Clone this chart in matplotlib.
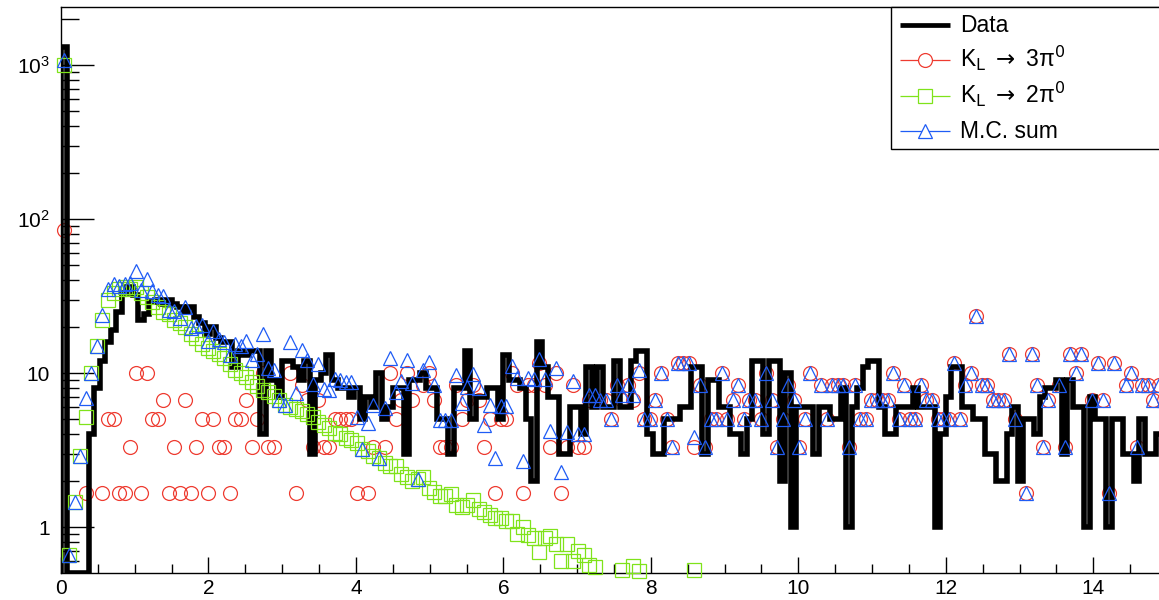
import numpy as np
import matplotlib.pyplot as plt
from matplotlib.patches import Rectangle
from matplotlib.lines import Line2D
from matplotlib.ticker import FixedLocator, FixedFormatter, NullFormatter

plt.rcParams['font.family'] = ['Liberation Sans', 'DejaVu Sans']
plt.rcParams['mathtext.fontset'] = 'custom'
plt.rcParams['mathtext.rm'] = 'Liberation Sans'
plt.rcParams['mathtext.it'] = 'Liberation Sans:italic'
plt.rcParams['mathtext.bf'] = 'Liberation Sans:bold'

# -----------------------------
# binning: 200 bins over 0..15
# -----------------------------
x_lo, x_hi, n_bins = 0.0, 15.0, 200

# data counts per bin
data_counts = [
    1300, 0, 0, 0, 0, 4, 8, 12, 16, 19, 25, 33, 36, 32, 22, 24, 29, 30, 28, 30,
    28, 27, 25, 27, 23, 21, 18, 20, 17, 16, 16, 11, 14, 13, 14, 14, 4, 14, 9, 7,
    12, 12, 11, 9, 12, 3, 9, 10, 13, 9, 8, 8, 7, 8, 5, 7, 6, 10, 5, 6,
    8, 8, 3, 9, 9, 10, 8, 8, 5, 5, 3, 8, 8, 14, 5, 7, 7, 8, 8, 5,
    13, 9, 9, 8, 5, 2, 16, 11, 7, 7, 3, 3, 6, 6, 4, 11, 6, 11, 6, 6,
    12, 6, 6, 12, 14, 14, 4, 3, 3, 5, 5, 5, 6, 6, 11, 11, 3, 9, 9, 6,
    6, 4, 4, 3, 5, 12, 12, 4, 12, 12, 2, 10, 1, 6, 6, 6, 3, 6, 6, 5,
    5, 8, 1, 6, 8, 11, 12, 12, 6, 4, 4, 6, 6, 6, 8, 6, 6, 6, 1, 4,
    7, 11, 11, 6, 6, 5, 5, 3, 3, 2, 2, 4, 6, 2, 5, 5, 4, 7, 8, 8,
    9, 3, 9, 6, 6, 1, 7, 5, 5, 1, 5, 5, 3, 3, 2, 5, 3, 3, 4, 4,
]

# K_L -> 3pi0 MC: raw counts, each MC event has weight 5/3
mc3_weight = 5.0 / 3.0
mc3_counts = [
    51, 0, 0, 0, 1, 0, 0, 1, 3, 3, 1, 1, 2, 6, 1, 6, 3, 3, 4, 1,
    2, 1, 4, 1, 2, 3, 1, 3, 2, 2, 1, 3, 3, 4, 2, 3, 6, 2, 2, 0,
    0, 6, 1, 5, 4, 2, 4, 2, 2, 3, 3, 3, 3, 1, 0, 1, 2, 0, 2, 6,
    3, 4, 6, 4, 0, 5, 6, 4, 2, 2, 2, 5, 3, 4, 5, 4, 2, 3, 1, 3,
    3, 6, 5, 1, 5, 5, 7, 5, 2, 6, 1, 2, 5, 2, 2, 4, 4, 4, 4, 3,
    5, 4, 5, 4, 6, 3, 3, 4, 6, 3, 2, 7, 7, 7, 2, 5, 2, 3, 3, 6,
    3, 4, 5, 3, 4, 4, 3, 6, 4, 2, 3, 5, 4, 2, 3, 6, 0, 5, 3, 5,
    5, 5, 2, 5, 3, 3, 4, 4, 4, 4, 6, 3, 5, 3, 3, 5, 4, 4, 3, 3,
    3, 7, 3, 5, 6, 14, 5, 5, 4, 4, 4, 8, 3, 0, 1, 8, 5, 2, 4, 0,
    5, 2, 8, 6, 8, 0, 4, 7, 4, 1, 7, 0, 5, 6, 2, 5, 5, 4, 5, 4,
]

# K_L -> 2pi0 MC (weighted)
mc2_values = [
    1000, 0.66, 1.45, 2.9, 5.2, 10, 15, 22, 30, 33, 35, 36, 35, 36, 33, 31, 29, 27, 25, 24,
    22, 21, 20, 18, 17, 15.5, 14.5, 13.8, 13.2, 12.5, 11.5, 10.5, 10, 9.4, 8.8, 8.2, 7.8, 7.5, 7.1, 6.7,
    6.2, 6.0, 5.8, 5.7, 5.4, 5.2, 4.8, 4.6, 4.4, 4.1, 4.0, 3.8, 3.7, 3.5, 3.2, 3.1, 2.9, 2.8, 2.6, 2.5,
    2.5, 2.2, 2.1, 2.0, 2.05, 2.1, 1.8, 1.7, 1.6, 1.6, 1.65, 1.4, 1.35, 1.4, 1.5, 1.3, 1.25, 1.2, 1.15, 1.15,
    1.1, 1.1, 0.9, 1.0, 0.89, 0.85, 0.69, 0.85, 0.88, 0.78, 0.6, 0.78, 0.6, 0.7, 0.66, 0.57, 0.55, 0, 0, 0,
    0, 0.53, 0, 0.56, 0.52, 0, 0, 0, 0, 0, 0, 0, 0, 0, 0.53, 0, 0, 0, 0, 0,
] + [0] * 80

RED = '#ee3b30'
GREEN = '#7fe31a'
BLUE = '#1f5cf5'

# -----------------------------
# derived histograms
# -----------------------------
edges = np.linspace(x_lo, x_hi, n_bins + 1)
centers = 0.5 * (edges[:-1] + edges[1:])
data = np.array(data_counts, dtype=float)
mc3 = np.array(mc3_counts, dtype=float) * mc3_weight
mc2 = np.array(mc2_values, dtype=float)
mc_sum = mc3 + mc2


def masked(v):
    return np.where(v > 0, v, np.nan)


# -----------------------------
# figure
# -----------------------------
fig = plt.figure(figsize=(11.59, 6.0), dpi=100)
ax = fig.add_axes([61 / 1159, 27 / 600, 1106 / 1159, 566 / 600])
ax.set_yscale('log')
ax.set_xlim(x_lo, x_hi)
ax.set_ylim(0.503, 2380)
y_floor = ax.get_ylim()[0]

mk = dict(ls='none', mfc='none', ms=10, mew=0.9, clip_on=False)
ax.plot(centers, masked(mc3), marker='o', mec=RED, zorder=3, **mk)

step = ax.stairs(np.where(data > 0, data, y_floor), edges, baseline=y_floor,
                 color='black', lw=4.0, zorder=4)
step.set_joinstyle('miter')

ax.plot(centers, masked(mc2), marker='s', mec=GREEN, zorder=5, **mk)
ax.plot(centers, masked(mc_sum), marker='^', mec=BLUE, zorder=6, **mk)

# axes / ticks
ax.xaxis.set_major_locator(FixedLocator(np.arange(0, 16, 2)))
ax.xaxis.set_minor_locator(FixedLocator(np.arange(0, 15.01, 0.5)))
ax.yaxis.set_major_locator(FixedLocator([1, 10, 100, 1000]))
ax.yaxis.set_major_formatter(FixedFormatter(['1', '10', r'$10^{2}$', r'$10^{3}$']))
minor_y = [k * 10.0 ** e for e in range(-1, 4) for k in range(2, 10)]
ax.yaxis.set_minor_locator(FixedLocator(minor_y))
ax.yaxis.set_minor_formatter(NullFormatter())

ax.tick_params(which='both', direction='in', top=False, right=False, width=1.0)
ax.tick_params(axis='x', which='major', length=11.5, labelsize=15, pad=4)
ax.tick_params(axis='x', which='minor', length=6.5)
ax.tick_params(axis='y', which='major', length=24, labelsize=15, pad=8)
ax.tick_params(axis='y', which='minor', length=13)
for s in ['left', 'bottom', 'top']:
    ax.spines[s].set_linewidth(1.0)
ax.spines['right'].set_visible(False)


# -----------------------------
# legend (ROOT style box)
# -----------------------------
def fx(px):
    return px / 1159.0


def fy(py):
    return 1.0 - py / 600.0


fig.patches.append(Rectangle((fx(891), fy(149)), fx(1170) - fx(891), fy(7) - fy(149),
                             transform=fig.transFigure, facecolor='white',
                             edgecolor='black', lw=1.0, zorder=10))

entries = [
    ('Data', dict(color='black', lw=3.4), None),
    (r'K$_{\mathrm{L}}$ $\rightarrow$ 3π$^{\mathrm{0}}$', dict(color=RED, lw=0.9), 'o'),
    (r'K$_{\mathrm{L}}$ $\rightarrow$ 2π$^{\mathrm{0}}$', dict(color=GREEN, lw=0.9), 's'),
    ('M.C. sum', dict(color=BLUE, lw=0.9), '^'),
]
for i, (label, lkw, marker) in enumerate(entries):
    base = 32 + 35.3 * i
    yh = base - 7
    fig.lines.append(Line2D([fx(900), fx(950)], [fy(yh), fy(yh)],
                            transform=fig.transFigure, zorder=11,
                            solid_capstyle='butt', **lkw))
    if marker is not None:
        fig.lines.append(Line2D([fx(925)], [fy(yh)], transform=fig.transFigure,
                                ls='none', marker=marker, ms=10, mew=0.9,
                                mfc='white', mec=lkw['color'], zorder=12))
    fig.text(fx(960), fy(base), label, fontsize=16.5, ha='left', va='baseline',
             math_fontfamily='dejavusans', zorder=12)

fig.savefig('out.png', dpi=100)
